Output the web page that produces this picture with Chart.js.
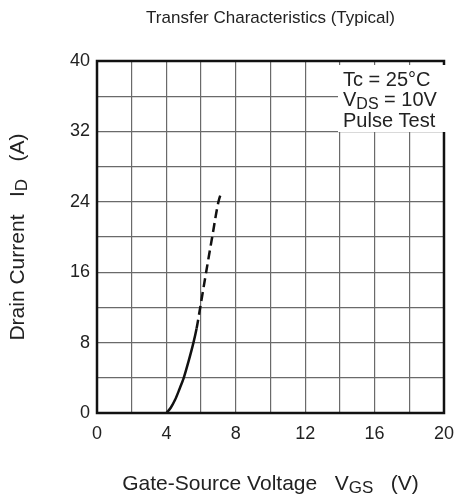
<!DOCTYPE html>
<html>
<head>
<meta charset="utf-8">
<script src="https://cdn.jsdelivr.net/npm/chart.js@4.4.1/dist/chart.umd.min.js"></script>
<style>
  html, body { margin: 0; padding: 0; background: #fff; }
  canvas { display: block; }
</style>
</head>
<body>
<canvas id="transferChart" width="464" height="495"></canvas>
<script>
// Transfer characteristics
const solidVgs = [4.0, 4.25, 4.5, 4.75, 5.0, 5.28, 5.56, 5.74];
const solidId  = [0, 0.6, 1.5, 2.7, 4.0, 5.9, 8.0, 9.6];
const dashVgs  = [5.95, 6.29, 6.64, 7.0, 7.19];
const dashId   = [12, 16, 20, 24, 25.2];

const xLabelStep = 4;   // labelled every 4 V, grid every 2 V
const yLabelStep = 8;   // labelled every 8 A, grid every 4 A
const noteLines = [
  [{ t: 'Tc = 25°C' }],
  [{ t: 'V' }, { t: 'DS', sub: true }, { t: ' = 10V' }],
  [{ t: 'Pulse Test' }]
];
const titleText = 'Transfer Characteristics (Typical)';
const xTitle = [{ t: 'Gate-Source Voltage   V' }, { t: 'GS', sub: true }, { t: '   (V)' }];
const yTitle = [{ t: 'Drain Current   I' }, { t: 'D', sub: true }, { t: '   (A)' }];

const FONT = '"Liberation Sans", Arial, Helvetica, sans-serif';

const allVgs = solidVgs.concat(dashVgs);
const allId = solidId.concat(dashId);
const dashFrom = solidVgs.length - 1;

// draw text with subscript parts
function drawRich(ctx, parts, x, y, size, align) {
  const subSize = Math.round(size * 0.8);
  let total = 0;
  parts.forEach(p => {
    ctx.font = (p.sub ? subSize : size) + 'px ' + FONT;
    p.w = ctx.measureText(p.t).width;
    total += p.w;
  });
  let cx = align === 'left' ? x : x - total / 2;
  parts.forEach(p => {
    ctx.font = (p.sub ? subSize : size) + 'px ' + FONT;
    ctx.textAlign = 'left';
    ctx.fillText(p.t, cx, y + (p.sub ? size * 0.22 : 0));
    cx += p.w;
  });
}

const decorPlugin = {
  id: 'decor',
  afterDatasetsDraw(chart) {
    const ctx = chart.ctx;
    const a = chart.chartArea;
    ctx.save();
    // heavy frame
    ctx.strokeStyle = '#111';
    ctx.lineWidth = 2.5;
    ctx.strokeRect(a.left, a.top, a.right - a.left, a.bottom - a.top);

    // condition box top right
    ctx.fillStyle = '#fff';
    ctx.fillRect(338, 65, 109, 67);
    ctx.fillStyle = '#222';
    ctx.textBaseline = 'middle';
    noteLines.forEach((line, i) => {
      drawRich(ctx, line, 343, 80 + i * 20.5, 20, 'left');
    });

    // title
    ctx.font = '17px ' + FONT;
    ctx.textAlign = 'center';
    ctx.fillText(titleText, (a.left + a.right) / 2, 18);

    // axis titles
    drawRich(ctx, xTitle, (a.left + a.right) / 2, 484, 21, 'center');
    ctx.translate(18, (a.top + a.bottom) / 2);
    ctx.rotate(-Math.PI / 2);
    drawRich(ctx, yTitle, 0, 0, 21, 'center');
    ctx.restore();
  }
};

new Chart(document.getElementById('transferChart').getContext('2d'), {
  type: 'line',
  data: {
    datasets: [{
      data: allVgs.map((x, i) => ({ x: x, y: allId[i] })),
      borderColor: '#111',
      borderWidth: 2.5,
      pointRadius: 0,
      cubicInterpolationMode: 'monotone',
      fill: false,
      segment: {
        borderDash: c => (c.p0DataIndex >= dashFrom ? [9, 5] : undefined)
      }
    }]
  },
  options: {
    responsive: false,
    animation: false,
    layout: { padding: { top: 61, right: 13, left: 0, bottom: 0 } },
    plugins: {
      legend: { display: false },
      title: { display: false },
      tooltip: { enabled: false }
    },
    scales: {
      x: {
        type: 'linear',
        min: 0,
        max: 20,
        afterFit(scale) { scale.height = 82; },
        grid: { color: '#6a6a6a', lineWidth: 1.2, drawTicks: false },
        border: { display: false },
        ticks: {
          stepSize: 2,
          autoSkip: false,
          maxRotation: 0,
          padding: 10,
          color: '#222',
          font: { family: FONT, size: 18 },
          callback: v => (v % xLabelStep === 0 ? String(v) : '')
        }
      },
      y: {
        type: 'linear',
        min: 0,
        max: 40,
        afterFit(scale) { scale.width = 97; },
        grid: { color: '#6a6a6a', lineWidth: 1.2, drawTicks: false },
        border: { display: false },
        ticks: {
          stepSize: 4,
          autoSkip: false,
          padding: 7,
          color: '#222',
          font: { family: FONT, size: 18 },
          callback: v => (v % yLabelStep === 0 ? String(v) : '')
        }
      }
    }
  },
  plugins: [decorPlugin]
});
</script>
</body>
</html>
